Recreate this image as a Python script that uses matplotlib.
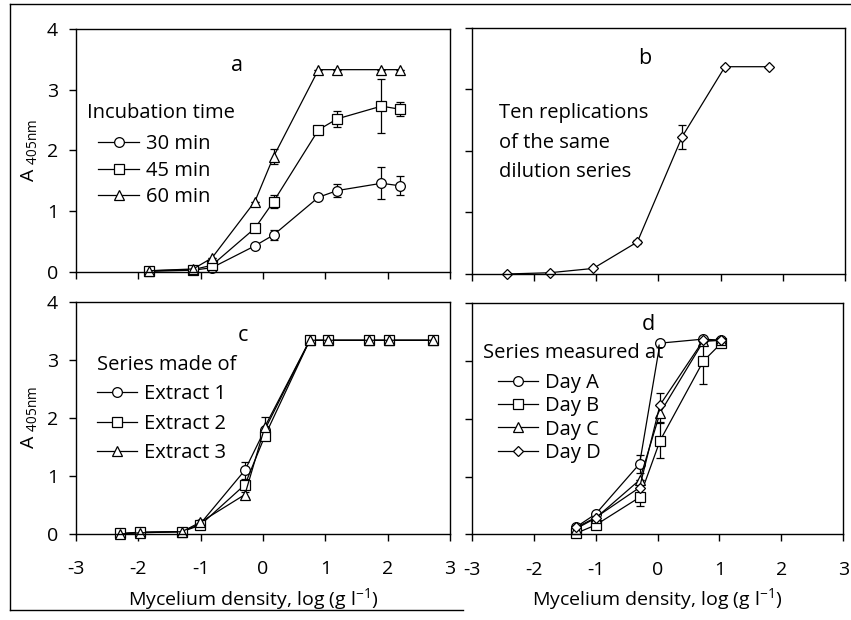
import numpy as np
import matplotlib
matplotlib.use("Agg")
import matplotlib.pyplot as plt
from matplotlib.lines import Line2D

plt.rcParams['font.family'] = ['Open Sans', 'DejaVu Sans']
plt.rcParams['mathtext.fontset'] = 'custom'
plt.rcParams['mathtext.rm'] = 'Open Sans'
plt.rcParams['axes.unicode_minus'] = False

# panel a: incubation time
xa = [-1.83, -1.12, -0.82, -0.13, 0.17, 0.89, 1.19, 1.90, 2.19]
a30 = [0.01, 0.03, 0.07, 0.43, 0.61, 1.23, 1.34, 1.46, 1.42]
a30_err = [0, 0, 0, 0, 0.08, 0, 0.10, 0.26, 0.16]
a45 = [0.02, 0.04, 0.11, 0.72, 1.16, 2.34, 2.52, 2.73, 2.68]
a45_err = [0, 0, 0, 0, 0.10, 0, 0.13, 0.45, 0.12]
a60 = [0.02, 0.05, 0.23, 1.16, 1.90, 3.33, 3.33, 3.33, 3.33]
a60_err = [0, 0, 0, 0, 0.12, 0, 0, 0, 0]
labels_a = ['30 min', '45 min', '60 min']

# panel b: ten replications
xb = [-2.43, -1.75, -1.05, -0.34, 0.38, 1.07, 1.78]
b_mean = [0.0, 0.02, 0.09, 0.52, 2.23, 3.37, 3.37]
b_err = [0, 0, 0, 0.03, 0.20, 0, 0]

# panel c: extracts
xc = [-2.30, -1.98, -1.30, -1.01, -0.29, 0.03, 0.75, 1.04, 1.70, 2.02, 2.72]
c1 = [0.0, 0.03, 0.04, 0.17, 1.10, 1.80, 3.34, 3.34, 3.34, 3.34, 3.34]
c1_err = [0, 0, 0, 0, 0.15, 0, 0, 0, 0, 0, 0]
c2 = [0.01, 0.03, 0.04, 0.15, 0.85, 1.69, 3.34, 3.34, 3.34, 3.34, 3.34]
c2_err = [0, 0, 0, 0, 0.08, 0, 0, 0, 0, 0, 0]
c3 = [0.0, 0.02, 0.04, 0.20, 0.68, 1.85, 3.34, 3.34, 3.34, 3.34, 3.34]
c3_err = [0, 0, 0, 0, 0.05, 0.17, 0, 0, 0, 0, 0]
labels_c = ['Extract 1', 'Extract 2', 'Extract 3']

# panel d: days
xd = [-1.31, -1.00, -0.29, 0.04, 0.74, 1.03]
dA = [0.13, 0.35, 1.22, 3.31, 3.38, 3.36]
dA_err = [0, 0, 0.15, 0, 0, 0]
dB = [0.02, 0.16, 0.64, 1.62, 3.00, 3.31]
dB_err = [0, 0, 0.15, 0.30, 0.40, 0]
dC = [0.10, 0.28, 0.94, 2.10, 3.34, 3.36]
dC_err = [0, 0, 0, 0.15, 0, 0]
dD = [0.12, 0.29, 0.81, 2.24, 3.36, 3.36]
dD_err = [0, 0, 0, 0.20, 0, 0]
labels_d = ['Day A', 'Day B', 'Day C', 'Day D']

xticks = [-3, -2, -1, 0, 1, 2, 3]
yticks = [0, 1, 2, 3, 4]

FS = 14      # ticks and axis labels
TS = 14.5    # annotations and legends
LW = 0.9
MSIZE = {'o': 7, 's': 7, '^': 6.5, 'D': 5.5}

fig = plt.figure(figsize=(8.51, 6.20), dpi=100)
ax_a = fig.add_axes([0.0893, 0.5613, 0.4395, 0.3920])
ax_b = fig.add_axes([0.5546, 0.5581, 0.4383, 0.3968])
ax_c = fig.add_axes([0.0893, 0.1387, 0.4395, 0.3742])
ax_d = fig.add_axes([0.5543, 0.1382, 0.4367, 0.3726])


def series(ax, x, y, err, marker):
    ax.errorbar(x, y, yerr=err, color='black', lw=LW, marker=marker,
                ms=MSIZE[marker], mfc='white', mec='black', mew=LW, capsize=3,
                elinewidth=LW, capthick=LW, clip_on=False)


def handle(marker):
    return Line2D([], [], color='black', lw=LW, marker=marker,
                  ms=MSIZE[marker], mfc='white', mec='black', mew=LW)


def add_legend(ax, markers, labels, anchor, spacing):
    ax.legend([handle(m) for m in markers], labels, loc='upper left',
              bbox_to_anchor=anchor, frameon=False, fontsize=TS,
              handlelength=2.0, handletextpad=0.35, labelspacing=spacing,
              borderaxespad=0, borderpad=0)


def style(ax, ylab, xlab, xlab_x=0.5):
    ax.set_xlim(-3, 3)
    ax.set_ylim(0, 4)
    ax.set_xticks(xticks)
    ax.set_yticks(yticks)
    ax.tick_params(direction='out', length=5, width=1, labelsize=FS,
                   labelleft=ylab, labelbottom=xlab)
    ax.tick_params(axis='x', pad=14)
    ax.tick_params(axis='y', pad=8)
    for s in ax.spines.values():
        s.set_linewidth(1.0)
    if ylab:
        ax.set_ylabel('A $_{\\mathregular{405nm}}$', fontsize=FS, labelpad=5)
    if xlab:
        ax.set_xlabel('Mycelium density, log (g l$^{\\mathregular{-1}}$)',
                      fontsize=FS)
        ax.xaxis.set_label_coords(xlab_x, -0.225)


series(ax_a, xa, a30, a30_err, 'o')
series(ax_a, xa, a45, a45_err, 's')
series(ax_a, xa, a60, a60_err, '^')
style(ax_a, True, False)
ax_a.text(-0.42, 3.4, 'a', fontsize=TS + 1, ha='center', va='center')
ax_a.text(0.03, 0.655, 'Incubation time', transform=ax_a.transAxes,
          fontsize=TS, ha='left', va='center')
add_legend(ax_a, ['o', 's', '^'], labels_a, (0.06, 0.567), 0.33)

series(ax_b, xb, b_mean, b_err, 'D')
style(ax_b, False, False)
ax_b.text(-0.22, 3.5, 'b', fontsize=TS + 1, ha='center', va='center')
ax_b.text(0.072, 0.695, 'Ten replications\nof the same\ndilution series',
          transform=ax_b.transAxes, fontsize=TS, ha='left', va='top',
          linespacing=1.65)

series(ax_c, xc, c1, c1_err, 'o')
series(ax_c, xc, c2, c2_err, 's')
series(ax_c, xc, c3, c3_err, '^')
style(ax_c, True, True, xlab_x=0.475)
ax_c.text(-0.32, 3.42, 'c', fontsize=TS + 1, ha='center', va='center')
ax_c.text(0.055, 0.73, 'Series made of', transform=ax_c.transAxes,
          fontsize=TS, ha='left', va='center')
add_legend(ax_c, ['o', 's', '^'], labels_c, (0.055, 0.646), 0.48)

series(ax_d, xd, dA, dA_err, 'o')
series(ax_d, xd, dB, dB_err, 's')
series(ax_d, xd, dC, dC_err, '^')
series(ax_d, xd, dD, dD_err, 'D')
style(ax_d, False, True)
ax_d.text(-0.15, 3.64, 'd', fontsize=TS + 1, ha='center', va='center')
ax_d.text(0.03, 0.785, 'Series measured at', transform=ax_d.transAxes,
          fontsize=TS, ha='left', va='center')
add_legend(ax_d, ['o', 's', '^', 'D'], labels_d, (0.07, 0.698), 0.16)

# scanned page frame
W, H = 851, 620
fig.add_artist(Line2D([10 / W, 1], [1 - 4 / H, 1 - 4 / H], color='black', lw=1))
fig.add_artist(Line2D([10 / W, 10 / W], [1 - 4 / H, 1 - 610 / H], color='black', lw=1))
fig.add_artist(Line2D([10 / W, 463 / W], [1 - 610 / H, 1 - 610 / H], color='black', lw=1))

fig.savefig('out.png', dpi=100)
